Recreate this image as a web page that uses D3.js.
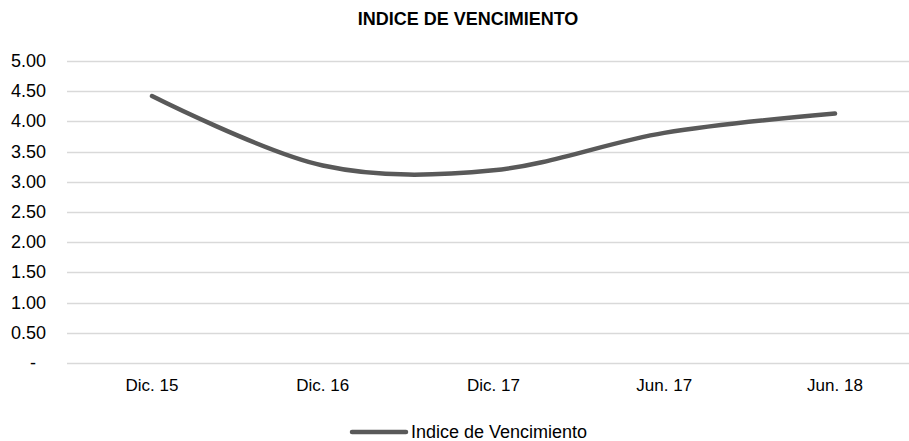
<!DOCTYPE html>
<html>
<head>
<meta charset="utf-8">
<script src="https://cdn.jsdelivr.net/npm/d3@7"></script>
<style>
  html, body { margin: 0; padding: 0; background: #fff; }
  svg { display: block; font-family: "Liberation Sans", Arial, sans-serif; }
</style>
</head>
<body>
<svg id="chart" width="909" height="441"></svg>
<script>
const categories = ["Dic. 15", "Dic. 16", "Dic. 17", "Jun. 17", "Jun. 18"];
const values = [4.42, 3.27, 3.19, 3.81, 4.13];
const yTicks = [0, 0.5, 1, 1.5, 2, 2.5, 3, 3.5, 4, 4.5, 5];
const seriesName = "Indice de Vencimiento";
const title = "INDICE DE VENCIMIENTO";

const svg = d3.select("#chart");
const W = 909;

const x = d3.scalePoint().domain(categories).range([152, 835]);
const y = d3.scaleLinear().domain([0, 5]).range([363, 61]);

// title
svg.append("text")
  .attr("x", 468).attr("y", 25)
  .attr("text-anchor", "middle")
  .attr("font-size", 18).attr("font-weight", "bold")
  .attr("fill", "#000")
  .text(title);

// gridlines
svg.append("g").selectAll("line")
  .data(yTicks).join("line")
  .attr("x1", 67).attr("x2", W)
  .attr("y1", d => Math.round(y(d)) + 0.5).attr("y2", d => Math.round(y(d)) + 0.5)
  .attr("stroke", "#d9d9d9").attr("stroke-width", 1.5);

// y labels
svg.append("g").selectAll("text")
  .data(yTicks).join("text")
  .attr("x", d => d === 0 ? 36 : 46)
  .attr("y", d => y(d) + 6)
  .attr("text-anchor", "end")
  .attr("font-size", 18).attr("fill", "#000")
  .text(d => d === 0 ? "-" : d3.format(".2f")(d));

// x labels
svg.append("g").selectAll("text")
  .data(categories).join("text")
  .attr("x", d => x(d))
  .attr("y", 391)
  .attr("text-anchor", "middle")
  .attr("font-size", 17).attr("fill", "#000")
  .text(d => d);

// line
const line = d3.line()
  .x((d, i) => x(categories[i]))
  .y(d => y(d))
  .curve(d3.curveCardinal.tension(0));

svg.append("path")
  .datum(values)
  .attr("d", line)
  .attr("fill", "none")
  .attr("stroke", "#595959")
  .attr("stroke-width", 4.5)
  .attr("stroke-linecap", "round");

// legend
svg.append("line")
  .attr("x1", 352).attr("x2", 406)
  .attr("y1", 432).attr("y2", 432)
  .attr("stroke", "#595959").attr("stroke-width", 4.5)
  .attr("stroke-linecap", "round");
svg.append("text")
  .attr("x", 411).attr("y", 438)
  .attr("font-size", 18).attr("fill", "#000")
  .text(seriesName);
</script>
</body>
</html>
